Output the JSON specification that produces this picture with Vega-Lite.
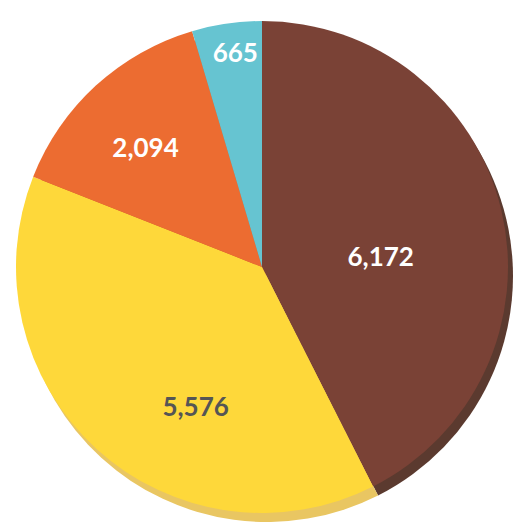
{
  "$schema": "https://vega.github.io/schema/vega-lite/v6.json",
  "width": 521,
  "height": 527,
  "autosize": {"type": "fit", "contains": "padding"},
  "padding": {"left": 3, "top": 7, "right": 0, "bottom": 0},
  "background": "white",
  "view": {"stroke": null},
  "data": {
    "values": [
      {"cat": "A", "order": 1, "value": 6172},
      {"cat": "B", "order": 2, "value": 5576},
      {"cat": "C", "order": 3, "value": 2094},
      {"cat": "D", "order": 4, "value": 665}
    ]
  },
  "encoding": {
    "theta": {"field": "value", "type": "quantitative", "stack": true},
    "order": {"field": "order", "type": "quantitative"}
  },
  "layer": [
    {
      "mark": {"type": "arc", "radius": 246, "xOffset": 5, "yOffset": 9},
      "encoding": {
        "fill": {"field": "cat", "type": "nominal", "legend": null,
          "scale": {"domain": ["A", "B", "C", "D"], "range": ["#5B3A2F", "#E9C662", "#C9602E", "#5AAFBB"]}}
      }
    },
    {
      "mark": {"type": "arc", "radius": 246},
      "encoding": {
        "color": {"field": "cat", "type": "nominal", "legend": null,
          "scale": {"domain": ["A", "B", "C", "D"], "range": ["#7A4236", "#FED83A", "#EC6C31", "#66C4D1"]}}
      }
    },
    {
      "mark": {"type": "text", "radius": 120, "dx": 2, "dy": 19, "font": "Lato", "fontWeight": "bold", "fontSize": 26, "fill": "white"},
      "encoding": {
        "text": {"condition": {"test": "datum.cat === 'A'", "field": "value", "format": ","}, "value": ""}
      }
    },
    {
      "mark": {"type": "text", "radius": 155, "dx": 38, "dy": 26, "font": "Lato", "fontWeight": "bold", "fontSize": 26, "fill": "#555555"},
      "encoding": {
        "text": {"condition": {"test": "datum.cat === 'B'", "field": "value", "format": ","}, "value": ""}
      }
    },
    {
      "mark": {"type": "text", "radius": 165, "dx": -5, "dy": 4, "font": "Lato", "fontWeight": "bold", "fontSize": 26, "fill": "white"},
      "encoding": {
        "text": {"condition": {"test": "datum.cat === 'C'", "field": "value", "format": ","}, "value": ""}
      }
    },
    {
      "mark": {"type": "text", "radius": 214, "dx": 4, "dy": -1, "font": "Lato", "fontWeight": "bold", "fontSize": 26, "fill": "white"},
      "encoding": {
        "text": {"condition": {"test": "datum.cat === 'D'", "field": "value", "format": ","}, "value": ""}
      }
    }
  ]
}
